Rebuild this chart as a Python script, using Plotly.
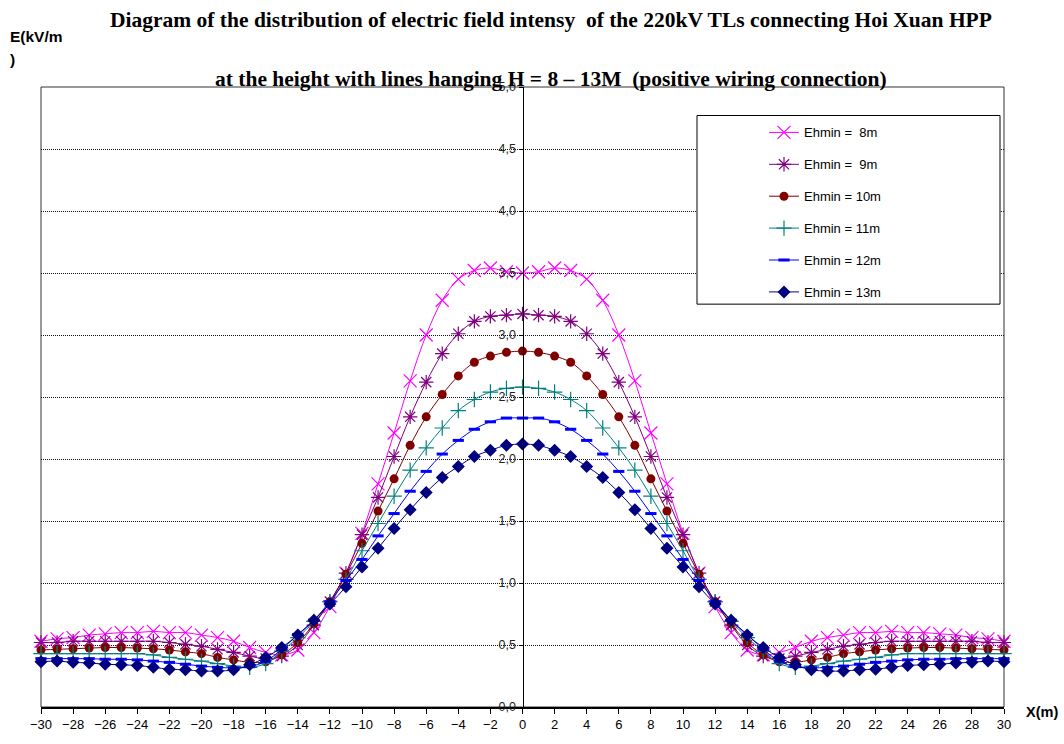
import plotly.graph_objects as go

# Horizontal distance from the line axis (m)
x_m = list(range(-30, 31))

# Electric field intensity E (kV/m) for each minimum conductor height
e_8m = [0.53, 0.55, 0.56, 0.58, 0.59, 0.60, 0.60, 0.61, 0.60, 0.60, 0.58, 0.56, 0.53, 0.48, 0.44, 0.42,
        0.46, 0.60, 0.81, 1.08, 1.40, 1.80, 2.21, 2.63, 3.00, 3.28, 3.45, 3.52, 3.54, 3.51, 3.50,
        3.51, 3.54, 3.52, 3.45, 3.28, 3.00, 2.63, 2.21, 1.80, 1.40, 1.08, 0.81, 0.60, 0.46,
        0.42, 0.44, 0.48, 0.53, 0.56, 0.58, 0.60, 0.60, 0.61, 0.60, 0.60, 0.59, 0.58, 0.56, 0.55, 0.53]
e_9m = [0.52, 0.52, 0.53, 0.53, 0.53, 0.53, 0.53, 0.53, 0.52, 0.505, 0.49, 0.465, 0.44, 0.41, 0.39, 0.41,
        0.50, 0.66, 0.85, 1.08, 1.39, 1.69, 2.02, 2.34, 2.62, 2.85, 3.01, 3.11, 3.15, 3.16, 3.17,
        3.16, 3.15, 3.11, 3.01, 2.85, 2.62, 2.34, 2.02, 1.69, 1.39, 1.08, 0.85, 0.66, 0.50,
        0.41, 0.39, 0.41, 0.44, 0.465, 0.49, 0.505, 0.52, 0.53, 0.53, 0.53, 0.53, 0.53, 0.53, 0.52, 0.52]
e_10m = [0.46, 0.465, 0.47, 0.475, 0.48, 0.48, 0.475, 0.47, 0.46, 0.445, 0.43, 0.40, 0.38, 0.36, 0.365, 0.42,
         0.52, 0.67, 0.85, 1.07, 1.32, 1.58, 1.84, 2.11, 2.34, 2.52, 2.67, 2.78, 2.83, 2.86, 2.87,
         2.86, 2.83, 2.78, 2.67, 2.52, 2.34, 2.11, 1.84, 1.58, 1.32, 1.07, 0.85, 0.67, 0.52,
         0.42, 0.365, 0.36, 0.38, 0.40, 0.43, 0.445, 0.46, 0.47, 0.475, 0.48, 0.48, 0.475, 0.47, 0.465, 0.46]
e_11m = [0.43, 0.43, 0.43, 0.43, 0.43, 0.43, 0.43, 0.42, 0.40, 0.385, 0.37, 0.35, 0.33, 0.32, 0.35, 0.45,
         0.56, 0.69, 0.85, 1.03, 1.26, 1.48, 1.70, 1.91, 2.09, 2.25, 2.39, 2.48, 2.54, 2.57, 2.58,
         2.57, 2.54, 2.48, 2.39, 2.25, 2.09, 1.91, 1.70, 1.48, 1.26, 1.03, 0.85, 0.69, 0.56,
         0.45, 0.35, 0.32, 0.33, 0.35, 0.37, 0.385, 0.40, 0.42, 0.43, 0.43, 0.43, 0.43, 0.43, 0.43, 0.43]
e_12m = [0.39, 0.39, 0.39, 0.39, 0.385, 0.385, 0.38, 0.37, 0.36, 0.345, 0.33, 0.32, 0.315, 0.325, 0.37, 0.465,
         0.585, 0.70, 0.85, 1.02, 1.19, 1.38, 1.56, 1.74, 1.90, 2.04, 2.15, 2.24, 2.30, 2.33, 2.33,
         2.33, 2.30, 2.24, 2.15, 2.04, 1.90, 1.74, 1.56, 1.38, 1.19, 1.02, 0.85, 0.70, 0.585,
         0.465, 0.37, 0.325, 0.315, 0.32, 0.33, 0.345, 0.36, 0.37, 0.38, 0.385, 0.385, 0.39, 0.39, 0.39, 0.39]
e_13m = [0.365, 0.37, 0.36, 0.355, 0.345, 0.34, 0.335, 0.32, 0.305, 0.30, 0.29, 0.29, 0.30, 0.34, 0.40, 0.48,
         0.58, 0.70, 0.83, 0.97, 1.13, 1.28, 1.44, 1.59, 1.73, 1.85, 1.94, 2.02, 2.07, 2.11, 2.12,
         2.11, 2.07, 2.02, 1.94, 1.85, 1.73, 1.59, 1.44, 1.28, 1.13, 0.97, 0.83, 0.70, 0.58,
         0.48, 0.40, 0.34, 0.30, 0.29, 0.29, 0.30, 0.305, 0.32, 0.335, 0.34, 0.345, 0.355, 0.36, 0.37, 0.365]

series_names = ["Ehmin = \u00a08m", "Ehmin = \u00a09m", "Ehmin = 10m",
                "Ehmin = 11m", "Ehmin = 12m", "Ehmin = 13m"]
series_values = [e_8m, e_9m, e_10m, e_11m, e_12m, e_13m]

styles = [
    dict(color="#FF00FF", symbol="x-thin", size=13, lw=1.2),
    dict(color="#800080", symbol="asterisk", size=12, lw=1.2),
    dict(color="#800000", symbol="circle", size=9, lw=0),
    dict(color="#008080", symbol="cross-thin", size=11, lw=1.2),
    dict(color="#0000FF", symbol="line-ew", size=8, lw=3),
    dict(color="#000080", symbol="diamond", size=10, lw=0),
]

SANS = "Liberation Sans"

# Plot-area geometry in pixels (used to place free text in paper coords)
W, H = 1064, 744
ML, MR, MT, MB = 41, 60, 87, 26
PW, PH = W - ML - MR, H - MT - MB


def px_x(p):
    return (p - ML) / PW


def px_y(p):
    return (H - MB - p) / PH


fig = go.Figure()
for i, (name, vals, st) in enumerate(zip(series_names, series_values, styles)):
    marker = dict(symbol=st["symbol"], size=st["size"], color=st["color"],
                  line=dict(width=st["lw"], color=st["color"]))
    fig.add_trace(go.Scatter(
        x=x_m, y=vals, name=name, mode="lines+markers",
        line=dict(color=st["color"], width=1, shape="spline", smoothing=1),
        marker=marker, cliponaxis=False, legendgroup=f"g{i}",
    ))

# Legend frame
fig.add_shape(type="rect", xref="paper", yref="paper",
              x0=px_x(697), x1=px_x(1000), y0=px_y(308), y1=px_y(116),
              line=dict(color="black", width=1), fillcolor="white", layer="above")

title_font = dict(family="Liberation Serif", size=21.5, color="black")
fig.add_annotation(text="<b>Diagram of the distribution of electric field intensy  of the 220kV TLs connecting Hoi Xuan HPP</b>",
                   xref="paper", yref="paper", x=px_x(551), y=px_y(19), showarrow=False,
                   xanchor="center", yanchor="middle", font=title_font)
fig.add_annotation(text="<b>at the height with lines hanging H = 8 \u2013 13M  (positive wiring connection)</b>",
                   xref="paper", yref="paper", x=px_x(551), y=px_y(79), showarrow=False,
                   xanchor="center", yanchor="middle", font=title_font)

axis_font = dict(family=SANS, size=15.5, color="black")
fig.add_annotation(text="<b>E(kV/m</b>", xref="paper", yref="paper", x=px_x(8), y=px_y(36),
                   showarrow=False, xanchor="left", yanchor="middle", font=axis_font)
fig.add_annotation(text="<b>)</b>", xref="paper", yref="paper", x=px_x(8), y=px_y(59),
                   showarrow=False, xanchor="left", yanchor="middle", font=axis_font)
fig.add_annotation(text="<b>X(m)</b>", xref="paper", yref="paper", x=px_x(1024), y=px_y(723),
                   showarrow=False, xanchor="left", yanchor="middle",
                   font=dict(family=SANS, size=14.5, color="black"))

fig.update_layout(
    width=W, height=H,
    margin=dict(l=ML, r=MR, t=MT, b=MB),
    paper_bgcolor="white", plot_bgcolor="white",
    separators=", ",
    showlegend=True,
    legend=dict(x=px_x(764), y=px_y(118), xanchor="left", yanchor="top",
                bgcolor="rgba(0,0,0,0)", borderwidth=0, tracegroupgap=12,
                font=dict(family=SANS, size=13, color="black")),
    xaxis=dict(range=[-30, 30], tick0=-30, dtick=2, showgrid=False, zeroline=False,
               showline=True, linecolor="black", linewidth=1.5,
               ticks="outside", ticklen=5, tickcolor="black",
               tickfont=dict(family=SANS, size=13, color="black"), mirror=False),
    yaxis=dict(range=[0, 5], dtick=0.5, tickformat=".1f", anchor="free", position=0.5,
               showline=True, linecolor="black", linewidth=1, zeroline=False,
               ticks="outside", ticklen=4, tickcolor="black",
               showgrid=True, gridcolor="#111", gridwidth=1, griddash="1px,1px",
               tickfont=dict(family=SANS, size=12.5, color="#222")),
    shapes=list(fig.layout.shapes) + [
        dict(type="rect", xref="paper", yref="paper", x0=0, x1=1, y0=0, y1=1,
             line=dict(color="#333", width=1), layer="below"),
    ],
)

fig.write_html("out.html")
